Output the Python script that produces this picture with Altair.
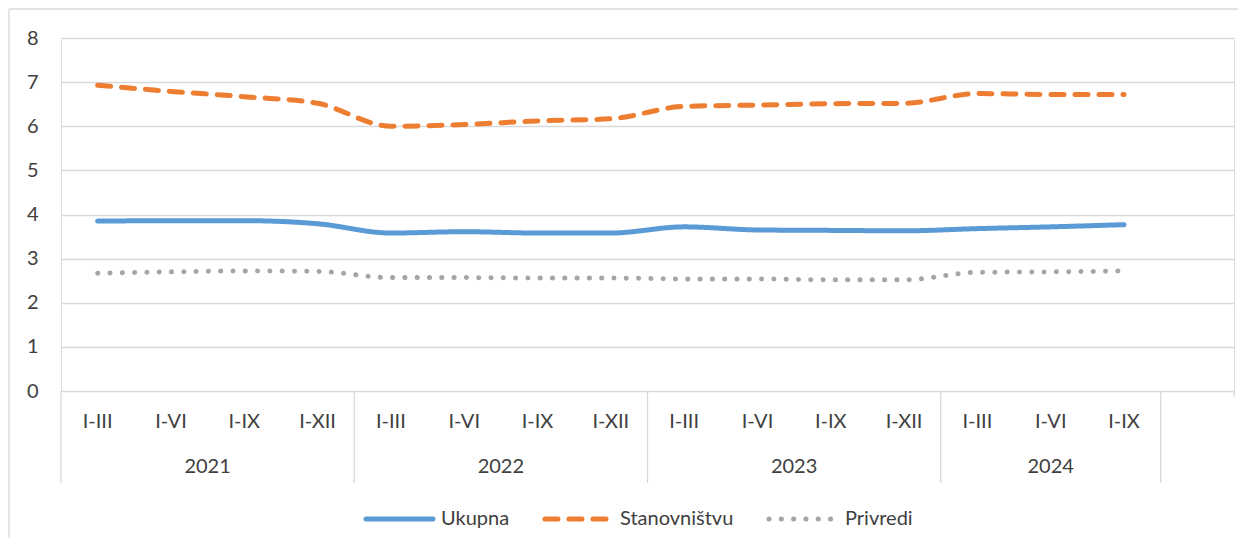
import altair as alt
import pandas as pd

# ---- data ----
quarters = ["I-III", "I-VI", "I-IX", "I-XII",
            "I-III", "I-VI", "I-IX", "I-XII",
            "I-III", "I-VI", "I-IX", "I-XII",
            "I-III", "I-VI", "I-IX"]
years = ["2021", "2022", "2023", "2024"]
year_counts = [4, 4, 4, 3]
series_names = ["Ukupna", "Stanovništvu", "Privredi"]
series_colors = ["#5B9BD5", "#ED7D31", "#A5A5A5"]
ukupna = [3.85, 3.86, 3.86, 3.79, 3.58, 3.61, 3.58, 3.58,
          3.72, 3.65, 3.64, 3.63, 3.68, 3.72, 3.77]
stanovnistvu = [6.93, 6.79, 6.67, 6.52, 6.00, 6.04, 6.12, 6.17,
                6.45, 6.48, 6.51, 6.52, 6.74, 6.72, 6.72]
privredi = [2.67, 2.70, 2.72, 2.71, 2.57, 2.57, 2.56, 2.56,
            2.54, 2.54, 2.52, 2.52, 2.69, 2.70, 2.72]
n_slots = 16

# ---- layout constants ----
W, H = 1173, 353
FONT = "Lato"
TXT = "#404040"
GRID = "#d9d9d9"

# ---- tables built from the arrays ----
rows = []
for name, vals in zip(series_names, [ukupna, stanovnistvu, privredi]):
    for i, (q, v) in enumerate(zip(quarters, vals)):
        rows.append({"pos": i + 0.5, "q": q, "series": name, "value": v})
long_df = pd.DataFrame(rows)
cat_df = pd.DataFrame({"pos": [i + 0.5 for i in range(len(quarters))], "q": quarters})

starts, mids, s = [], [], 0
for c in year_counts:
    starts.append(s)
    mids.append(s + c / 2)
    s += c
year_df = pd.DataFrame({"year": years, "mid": mids})
sep_df = pd.DataFrame({"b": starts + [s]})
end_df = pd.DataFrame({"b": [n_slots]})

xscale = alt.Scale(domain=[0, n_slots], nice=False, zero=False)
yscale = alt.Scale(domain=[0, 8], nice=False, zero=True)

lines = alt.Chart(long_df).mark_line(
    strokeWidth=5, strokeCap="round", strokeJoin="round", interpolate="monotone"
).encode(
    x=alt.X("pos:Q", scale=xscale, axis=None),
    y=alt.Y("value:Q", scale=yscale,
            axis=alt.Axis(values=list(range(9)), grid=True, gridColor=GRID,
                          gridWidth=1.3, domain=False, ticks=False,
                          labelFontSize=20, labelFont=FONT, labelColor=TXT,
                          labelPadding=23, title=None)),
    color=alt.Color("series:N", scale=alt.Scale(domain=series_names, range=series_colors),
                    legend=None),
    strokeDash=alt.StrokeDash("series:N",
                              scale=alt.Scale(domain=series_names,
                                              range=[[1, 0], [13, 11], [0.1, 12.2]]),
                              legend=None),
    detail="series:N",
)

q_labels = alt.Chart(cat_df).mark_text(
    fontSize=20, font=FONT, color=TXT, baseline="middle"
).encode(x=alt.X("pos:Q", scale=xscale, axis=None), y=alt.value(384), text="q:N")

y_labels = alt.Chart(year_df).mark_text(
    fontSize=20, font=FONT, color=TXT, baseline="middle"
).encode(x=alt.X("mid:Q", scale=xscale, axis=None), y=alt.value(429), text="year:N")

seps = alt.Chart(sep_df).mark_rule(color=GRID, strokeWidth=1.3).encode(
    x=alt.X("b:Q", scale=xscale, axis=None), y=alt.value(H), y2=alt.value(H + 92))
end_tick = alt.Chart(end_df).mark_rule(color=GRID, strokeWidth=1.3).encode(
    x=alt.X("b:Q", scale=xscale, axis=None), y=alt.value(H), y2=alt.value(H + 6))

# ---- legend (manual, bottom centre) ----
LY = 481
leg_layers = []
leg_specs = [
    (series_names[0], series_colors[0], [1, 0], 305, 372, 380),
    (series_names[1], series_colors[1], [13, 11], 484, 546, 559),
    (series_names[2], series_colors[2], [0.1, 12.2], 708, 770, 784),
]
for name, col, dash, x1, x2, tx in leg_specs:
    one = pd.DataFrame({"series": [name]})
    leg_layers.append(alt.Chart(one).mark_rule(
        color=col, strokeWidth=5, strokeCap="round", strokeDash=dash
    ).encode(x=alt.value(x1), x2=alt.value(x2), y=alt.value(LY)))
    leg_layers.append(alt.Chart(one).mark_text(
        fontSize=20, font=FONT, color=TXT, align="left", baseline="middle"
    ).encode(x=alt.value(tx), y=alt.value(LY), text="series:N"))

# ---- outer chart-area border (top and left visible in the crop) ----
bd = pd.DataFrame({"k": [0]})
border_top = alt.Chart(bd).mark_rule(color=GRID, strokeWidth=1.3).encode(
    x=alt.value(-52), x2=alt.value(W + 10), y=alt.value(-29))
border_left = alt.Chart(bd).mark_rule(color=GRID, strokeWidth=1.3).encode(
    x=alt.value(-52), y=alt.value(-29), y2=alt.value(H + 160))

chart = alt.layer(
    border_top, border_left, seps, end_tick, lines, q_labels, y_labels, *leg_layers
).properties(
    width=W, height=H,
    autosize=alt.AutoSizeParams(type="none"),
    padding={"left": 53, "top": 30, "right": 4, "bottom": 147},
).configure_view(stroke=None).configure(background="white")

chart.save("out.html", embed_options={"renderer": "svg", "actions": False})
